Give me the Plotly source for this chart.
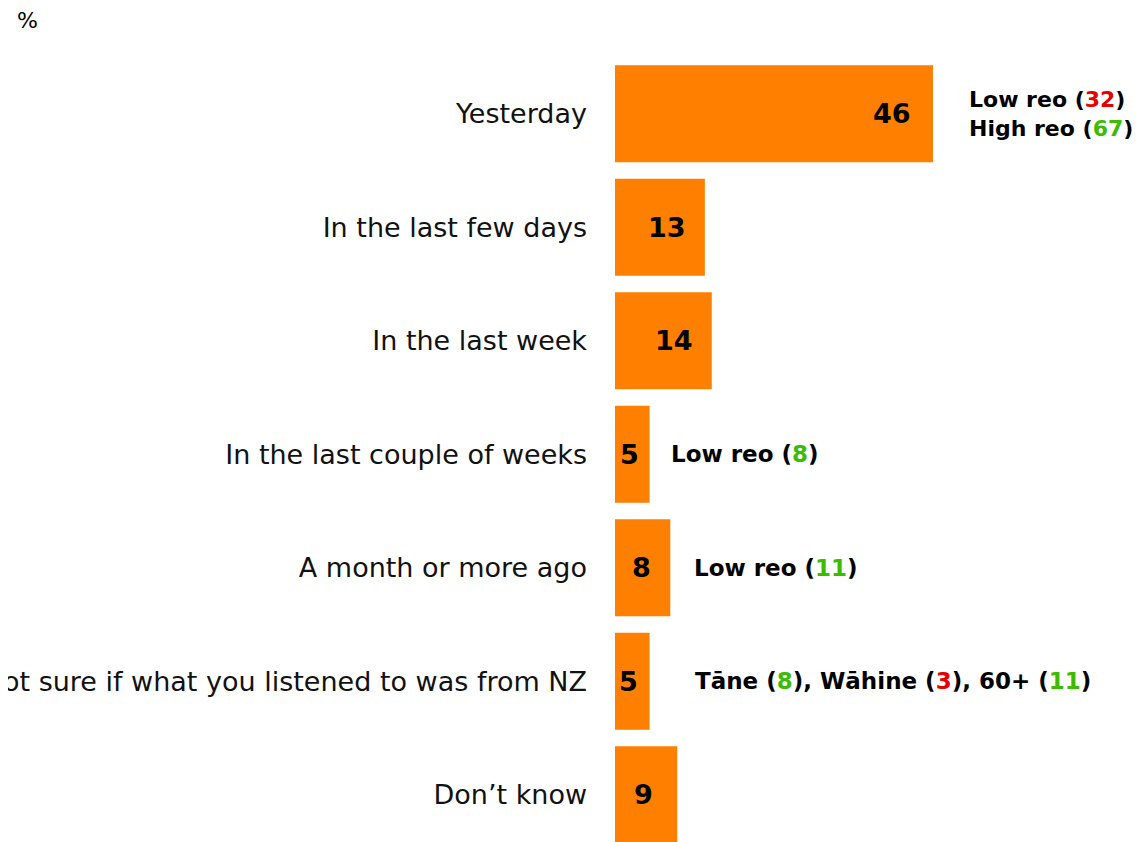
import plotly.graph_objects as go

categories = [
    "Yesterday",
    "In the last few days",
    "In the last week",
    "In the last couple of weeks",
    "A month or more ago",
    "Not sure if what you listened to was from NZ",
    "Don\u2019t know",
]
values = [46, 13, 14, 5, 8, 5, 9]

# sub-group notes: (group label, value, "low"/"high")
notes = [
    [("Low reo", 32, "low"), ("High reo", 67, "high")],
    [],
    [],
    [("Low reo", 8, "high")],
    [("Low reo", 11, "high")],
    [("T\u0101ne", 8, "high"), ("W\u0101hine", 3, "low"), ("60+", 11, "high")],
    [],
]

# styling / placement (pixels)
value_shift = [-20, -17, -17, -9, -17, -10, -22]
note_shift = [34, 0, 0, 19, 22, 43, 0]
note_size = [22, 23, 23, 23, 23, 23, 23]

ORANGE = "#FF7F00"
RED = "#E60000"
GREEN = "#3DBB00"
FONT = "'DejaVu Sans', sans-serif"

fig = go.Figure()
fig.add_trace(go.Bar(
    y=categories, x=values, orientation="h",
    marker=dict(color=ORANGE, line=dict(width=0)),
    hoverinfo="skip",
))

annotations = []
for cat, v, vs in zip(categories, values, value_shift):
    annotations.append(dict(
        x=v, y=cat, xref="x", yref="y", text=f"<b>{v}</b>",
        showarrow=False, xanchor="right", xshift=vs,
        font=dict(family=FONT, size=27, color="black"),
    ))

for cat, v, nl, sh, fs in zip(categories, values, notes, note_shift, note_size):
    if not nl:
        continue
    parts = []
    for lab, val, d in nl:
        col = RED if d == "low" else GREEN
        parts.append(f"<b>{lab} (<span style='color:{col}'>{val}</span>)</b>")
    if len(nl) == 2 and cat == "Yesterday":
        text = "<br>".join(parts)
    else:
        text = "<b>, </b>".join(parts)
    annotations.append(dict(
        x=v, y=cat, xref="x", yref="y", text=text, showarrow=False,
        xanchor="left", xshift=sh, align="left",
        font=dict(family=FONT, size=fs, color="black"),
    ))

# page body has an 8px margin
OFF = 8
W, H = 1145, 842
L = 615 - OFF
top = 57 - OFF
R = OFF
B = OFF
unit = 113.5
pw = W - L - R
ph = H - top - B
n_units = ph / unit

annotations.append(dict(
    x=(7 - L) / pw, y=1 + (top - 12) / ph, xref="paper", yref="paper", text="%",
    showarrow=False, xanchor="left", yanchor="middle",
    font=dict(family=FONT, size=22, color="black"),
))

fig.update_layout(
    width=W, height=H,
    margin=dict(l=L, r=R, t=top, b=B, autoexpand=False),
    paper_bgcolor="white", plot_bgcolor="white",
    showlegend=False, bargap=0.145,
    font=dict(family=FONT, size=27, color="black"),
    annotations=annotations,
    xaxis=dict(range=[0, pw / 6.913], visible=False, fixedrange=True),
    yaxis=dict(
        range=[n_units - 0.5, -0.5], showgrid=False, zeroline=False,
        showline=False, ticks="", automargin=False, ticklabelstandoff=27,
        tickfont=dict(family=FONT, size=27, color="#111111"),
    ),
)

fig.write_html("out.html")
